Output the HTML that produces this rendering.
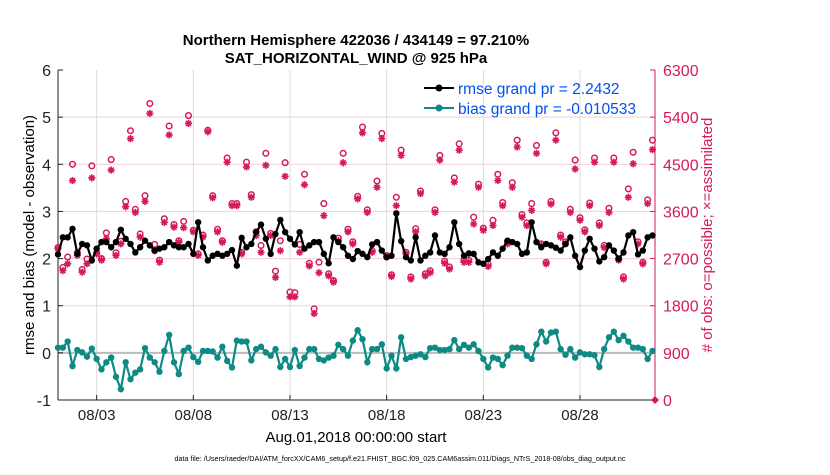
<!DOCTYPE html>
<html><head><meta charset="utf-8"><style>
body{margin:0;background:#fff;width:830px;height:470px;overflow:hidden;font-family:"Liberation Sans",sans-serif}
</style></head><body>
<svg id="chart" width="830" height="470" xmlns="http://www.w3.org/2000/svg" font-family="Liberation Sans, sans-serif">
<rect width="830" height="470" fill="#fff"/>
<g id="grid"></g>
<g id="axes"></g>
<g id="marks"></g>
<g id="labels">
<text x="356" y="45" text-anchor="middle" font-size="15" font-weight="bold">Northern Hemisphere 422036 / 434149 = 97.210%</text>
<text x="356" y="63" text-anchor="middle" font-size="15" font-weight="bold">SAT_HORIZONTAL_WIND @ 925 hPa</text>
<text x="356" y="442" text-anchor="middle" font-size="15">Aug.01,2018 00:00:00 start</text>
<text transform="translate(34,235) rotate(-90)" text-anchor="middle" font-size="15">rmse and bias (model - observation)</text>
<text transform="translate(712,235) rotate(-90)" text-anchor="middle" font-size="15" fill="#d6185e"># of obs: o=possible; ×=assimilated</text>
<text x="400" y="461" text-anchor="middle" font-size="7.2">data file: /Users/raeder/DAI/ATM_forcXX/CAM6_setup/f.e21.FHIST_BGC.f09_025.CAM6assim.011/Diags_NTrS_2018-08/obs_diag_output.nc</text>
</g>
<g id="legend">
<line x1="424" y1="88" x2="454" y2="88" stroke="#000" stroke-width="2"/>
<circle cx="439" cy="88" r="3.5" fill="#000"/>
<text x="458" y="94" font-size="15.5" fill="#0050f0">rmse grand pr = 2.2432</text>
<line x1="424" y1="108" x2="454" y2="108" stroke="#0e8a84" stroke-width="2"/>
<circle cx="439" cy="108" r="3.5" fill="#0e8a84"/>
<text x="458" y="114" font-size="15.5" fill="#0050f0">bias grand pr = -0.010533</text>
</g>
</svg>
<script>
const rmse=[2.09,2.45,2.45,2.63,2.10,2.31,2.28,1.96,2.21,2.35,2.35,2.24,2.35,2.61,2.42,2.31,2.13,2.24,2.38,2.28,2.17,2.21,2.24,2.35,2.28,2.24,2.24,2.31,2.10,2.77,2.24,1.96,
2.06,2.10,2.06,2.10,2.18,1.85,2.44,2.24,2.31,2.56,2.72,2.42,2.10,2.52,2.82,2.56,2.42,2.30,2.56,2.21,2.28,2.35,2.35,2.10,1.90,2.45,2.35,2.24,2.06,1.99,2.16,
2.10,2.03,2.30,2.35,2.17,2.03,2.06,2.96,2.37,2.03,1.96,2.45,1.96,2.06,2.13,2.49,2.13,2.10,2.24,2.77,2.31,2.06,2.11,2.10,1.92,1.89,1.99,2.13,2.06,2.21,2.38,
2.35,2.31,2.10,2.13,2.77,2.35,2.24,2.31,2.28,2.23,2.17,2.31,2.45,2.06,1.82,2.17,2.42,2.21,1.94,2.03,2.28,2.17,1.99,2.13,2.49,2.56,2.09,2.17,2.45,2.49];
const bias=[0.11,0.11,0.24,-0.28,0.06,0.01,-0.08,0.09,-0.13,-0.35,-0.2,-0.1,-0.51,-0.77,-0.2,-0.56,-0.42,-0.35,0.1,-0.1,-0.2,-0.4,0.04,0.38,-0.2,-0.45,0.04,0.11,-0.09,-0.19,0.04,0.04,
0.03,-0.1,0.13,-0.17,-0.31,0.26,0.24,0.24,-0.16,0.08,0.13,0.01,-0.06,0.08,-0.3,-0.13,-0.3,0.06,-0.28,-0.1,0.08,0.08,-0.13,-0.16,-0.1,-0.06,0.17,0.08,-0.06,0.26,0.48,
0.29,-0.2,0.08,0.08,0.18,-0.33,-0.06,-0.33,0.33,-0.13,-0.09,-0.06,-0.03,-0.09,0.1,0.11,0.06,0.06,0.08,0.27,0.08,0.17,0.11,0.18,0.04,-0.13,-0.31,-0.1,-0.13,-0.26,-0.06,
0.11,0.11,0.1,-0.06,-0.13,0.18,0.45,0.24,0.43,0.45,0.08,-0.04,0.08,-0.1,0.01,-0.03,-0.03,-0.05,-0.3,0.08,0.33,0.45,0.27,0.36,0.24,0.11,0.11,0.08,-0.13,0.04];
const nAssim=[2890,2470,2600,4190,2760,2440,2600,4240,2790,2670,3080,4390,2760,2980,3690,4990,3580,3110,3790,5470,2850,2630,3390,5060,3300,3010,3290,5280,3210,2760,3110,5120,
3860,3210,3010,4540,3710,3710,2790,4450,3870,3140,2820,4480,3140,2340,2850,4270,1970,1970,2820,4110,2560,1650,2430,3520,2370,2250,3040,4530,3210,2980,3840,
5100,3580,2820,4060,4990,2730,2360,3710,4670,2790,2310,3210,3940,2370,2430,3580,4580,2610,2500,4160,4770,2630,2630,3360,4060,3240,2550,3330,4190,3710,2980,
4060,4830,3490,3330,3620,4710,2950,2600,3740,4960,3110,2980,3580,4410,3430,3210,3710,4540,3330,2910,3580,4540,2670,2310,3870,4510,2980,2600,3750,4780];
const nPoss=[2910,2530,2730,4500,2810,2490,2690,4470,2810,2700,3190,4590,2810,3030,3790,5140,3640,3170,3900,5660,2970,2670,3460,5230,3350,3040,3410,5430,3240,2790,3150,5150,
3900,3260,3040,4620,3750,3750,2820,4540,3920,3210,2950,4710,3180,2460,3040,4530,2060,2050,2970,4310,2610,1740,2630,3750,2410,2280,3090,4710,3260,3020,3890,
5210,3630,2850,4180,5090,2760,2390,3870,4770,2820,2350,3270,3990,2410,2470,3630,4670,2650,2540,4240,4890,2670,2670,3490,4120,3280,2590,3430,4310,3770,3020,
4150,4960,3540,3380,3750,4860,2980,2630,3790,5100,3150,3020,3640,4580,3480,3250,3760,4620,3380,2950,3660,4620,2700,2350,4030,4730,3020,2630,3820,4960];
const xTickDays=[2,7,12,17,22,27];
const xTickLabels=["08/03","08/08","08/13","08/18","08/23","08/28"];
const yLeftTicks=[-1,0,1,2,3,4,5,6];
const yRightTicks=[0,900,1800,2700,3600,4500,5400,6300];

const X0=58,X1=655,Y0=400,Y1=70,DAYS=30.88;
const xs=d=>X0+d/DAYS*(X1-X0);
const yL=v=>Y0-(v+1)/7*(Y0-Y1);
const yR=c=>Y0-c/6300*(Y0-Y1);
const NS="http://www.w3.org/2000/svg";
function mk(tag,attrs,parent){const e=document.createElementNS(NS,tag);for(const k in attrs)e.setAttribute(k,attrs[k]);parent.appendChild(e);return e;}
const grid=document.getElementById('grid'),axes=document.getElementById('axes'),marks=document.getElementById('marks');
const MAG="#d6185e",TEAL="#0e8a84";

yLeftTicks.forEach(v=>{
  if(v>-1&&v<6&&v!==0){const l=mk('line',{x1:X0,x2:X1,y1:yL(v),y2:yL(v),stroke:'#f0cfdc','stroke-width':1},grid);
  
  }
  mk('line',{x1:X0,x2:X0+5,y1:yL(v),y2:yL(v),stroke:'#222'},axes);
  const t=mk('text',{x:X0-7,y:yL(v)+6,'text-anchor':'end','font-size':16,fill:'#222'},axes);t.textContent=v;
  
  
});
xTickDays.forEach((d,i)=>{
  const l=mk('line',{x1:xs(d),x2:xs(d),y1:Y1,y2:Y0,stroke:'#dcdcdc'},grid);
  
  
  mk('line',{x1:xs(d),x2:xs(d),y1:Y0,y2:Y0-5,stroke:'#222'},axes);
  const t=mk('text',{x:xs(d),y:Y0+20,'text-anchor':'middle','font-size':15,fill:'#222'},axes);t.textContent=xTickLabels[i];
  
  
});
yRightTicks.forEach(c=>{
  mk('line',{x1:X1,x2:X1-5,y1:yR(c),y2:yR(c),stroke:MAG},axes);
  const t=mk('text',{x:X1+8,y:yR(c)+6,'font-size':16,fill:MAG},axes);t.textContent=c;
  
  
});
const zl=mk('line',{x1:X0,x2:X1,y1:yL(0),y2:yL(0),stroke:'#bbb','stroke-width':2},grid);


const la=mk('line',{x1:X0,x2:X0,y1:Y1,y2:Y0,stroke:'#222'},axes);


const ba=mk('line',{x1:X0,x2:X1,y1:Y0,y2:Y0,stroke:'#222'},axes);


const ra=mk('line',{x1:X1,x2:X1,y1:Y1,y2:Y0,stroke:MAG},axes);



nPoss.forEach((c,i)=>{
  const o=mk('circle',{cx:xs(i*0.25),cy:yR(c),r:2.8,fill:'none',stroke:MAG,'stroke-width':1.5},marks);
  
  
});
nAssim.forEach((c,i)=>{
  const x=xs(i*0.25),y=yR(c),s=3.6;
  const p=mk('path',{d:`M${x-s},${y}H${x+s}M${x},${y-s}V${y+s}M${x-s*0.7},${y-s*0.7}L${x+s*0.7},${y+s*0.7}M${x-s*0.7},${y+s*0.7}L${x+s*0.7},${y-s*0.7}`,stroke:MAG,'stroke-width':1.6},marks);
  
  
});
const dm=mk('path',{d:`M${X1-4},${Y0}L${X1},${Y0-4}L${X1+4},${Y0}L${X1},${Y0+4}Z`,fill:MAG},marks);



function series(vals,color,name){
  const pts=vals.map((v,i)=>xs(i*0.25)+','+yL(v)).join(' ');
  const pl=mk('polyline',{points:pts,fill:'none',stroke:color,'stroke-width':2.2},marks);
  
  
  vals.forEach((v,i)=>{
    const c=mk('circle',{cx:xs(i*0.25),cy:yL(v),r:3.2,fill:color},marks);
    
    
  });
}
series(bias,TEAL,'bias');
series(rmse,'#000','rmse');
</script>
</body></html>
